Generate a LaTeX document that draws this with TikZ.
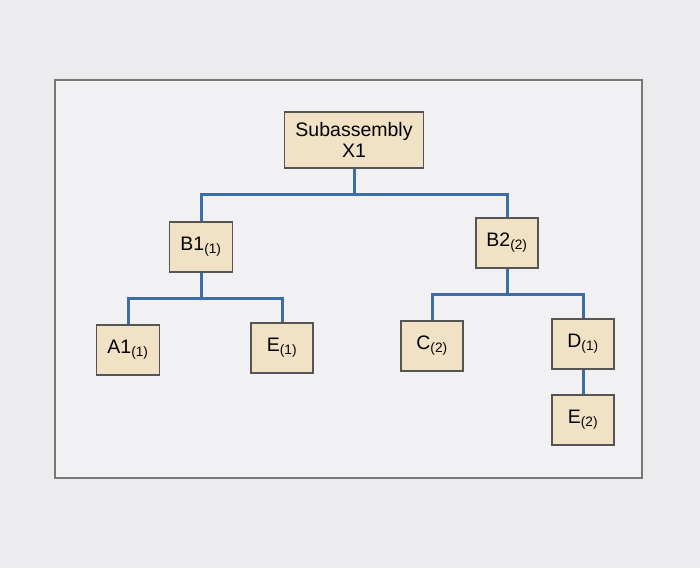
\documentclass[tikz,border=0pt]{standalone}
\usepackage{fontspec}
\setmainfont{Liberation Sans}
\usetikzlibrary{positioning}
\definecolor{partfill}{HTML}{F2E2C5}
\definecolor{partline}{HTML}{555555}
\definecolor{busblue}{HTML}{3B6EA6}
\definecolor{screen}{HTML}{ECECEE}
\definecolor{panel}{HTML}{F1F1F3}
\tikzset{
  part/.style={draw=partline,line width=1.5pt,fill=partfill,minimum width=62pt,minimum height=50pt,
    inner sep=2pt,align=center,font=\fontsize{19.5}{21}\selectfont},
  bus/.style={draw=busblue,line width=3pt},
  bus route/.style={to path={-- ++(0,-25.5pt) -| (\tikztotarget) \tikztonodes}}
}
\newcommand{\partqty}[1]{\textsubscript{(#1)}}

\begin{document}
\begin{tikzpicture}[x=1pt,y=-1pt]
  \useasboundingbox[fill=screen] (0,0) rectangle (700,568);
  \draw[partline!80,line width=1.5pt,fill=panel] (55,80) rectangle (642,478);
  % level 0
  \node[part,minimum width=139pt,minimum height=56pt] (x1) at (354,140) {Subassembly\\X1};
  % level 1
  \node[part,minimum width=63pt] (b1) at (201,247) {B1\partqty{1}};
  \node[part] (b2) at (507,243) {B2\partqty{2}};
  % level 2
  \node[part,minimum width=63pt] (a1) at (128,350) {A1\partqty{1}};
  \node[part] (e1) at (282,348) {E\partqty{1}};
  \node[part] (c2) at (432,346) {C\partqty{2}};
  \node[part] (d1) at (583,344) {D\partqty{1}};
  % level 3
  \node[part] (e2) at (583,420) {E\partqty{2}};
  % connectors
  \draw[bus,bus route] (x1.south) to (b1.north);
  \draw[bus,bus route] (x1.south) to (b2.north);
  \draw[bus,bus route] (b1.south) to (a1.north);
  \draw[bus,bus route] (b1.south) to (e1.north);
  \draw[bus,bus route] (b2.south) to (c2.north);
  \draw[bus,bus route] (b2.south) to (d1.north);
  \draw[bus] (d1.south) -- (e2.north);
\end{tikzpicture}
\end{document}
